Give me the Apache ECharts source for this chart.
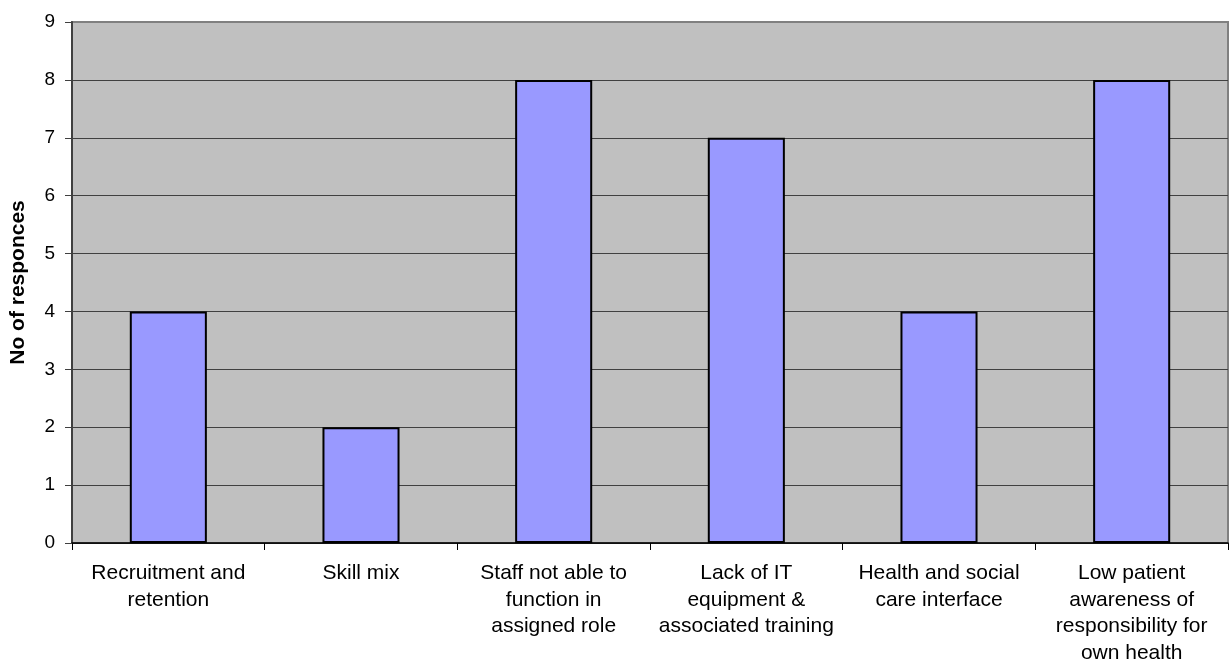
<!DOCTYPE html>
<html>
<head>
<meta charset="utf-8">
<style>
  html, body { margin: 0; padding: 0; background: #ffffff; }
  #chart { width: 1229px; height: 666px; }
</style>
<script src="https://cdn.jsdelivr.net/npm/echarts@6/dist/echarts.min.js"></script>
</head>
<body>
<div id="chart"></div>
<script>
// Barriers reported, with number of responses for each
const categories = [
  'Recruitment and\nretention',
  'Skill mix',
  'Staff not able to\nfunction in\nassigned role',
  'Lack of IT\nequipment &\nassociated training',
  'Health and social\ncare interface',
  'Low patient\nawareness of\nresponsibility for\nown health'
];
const responses = [4, 2, 8, 7, 4, 8];
const yTicks = { min: 0, max: 9, interval: 1 };
const yTitle = 'No of responces';

const FONT = '"Liberation Sans", Arial, sans-serif';

// one colour per horizontal gridline (0..9); the top one blends with the plot border
const gridColors = [];
for (let v = yTicks.min; v <= yTicks.max; v += yTicks.interval) {
  gridColors.push(v === yTicks.max ? '#808080' : '#404040');
}

const chart = echarts.init(document.getElementById('chart'), null, { renderer: 'canvas' });
chart.setOption({
  animation: false,
  backgroundColor: '#ffffff',
  textStyle: { fontFamily: FONT },
  grid: {
    left: 70, right: 1, top: 22, bottom: 122,
    show: true,
    backgroundColor: '#C0C0C0',
    borderColor: '#808080',
    borderWidth: 2
  },
  xAxis: {
    type: 'category',
    data: categories,
    axisLine: { show: true, lineStyle: { color: '#000000', width: 1.5 } },
    axisTick: { show: true, alignWithLabel: false, length: 7, lineStyle: { color: '#000000', width: 1 } },
    axisLabel: {
      interval: 0,
      margin: 17,
      color: '#000000',
      fontFamily: FONT,
      fontSize: 21,
      lineHeight: 26.5,
      align: 'center'
    },
    splitLine: { show: false }
  },
  yAxis: {
    type: 'value',
    min: yTicks.min,
    max: yTicks.max,
    interval: yTicks.interval,
    name: yTitle,
    nameLocation: 'middle',
    nameRotate: 90,
    nameGap: 43,
    nameTextStyle: { color: '#000000', fontFamily: FONT, fontSize: 21, fontWeight: 'bold' },
    axisLine: { show: true, lineStyle: { color: '#404040', width: 2 } },
    axisTick: { show: true, length: 7, lineStyle: { color: '#404040', width: 1 } },
    axisLabel: { margin: 17, color: '#000000', fontFamily: FONT, fontSize: 19 },
    splitLine: { show: true, lineStyle: { color: gridColors, width: 1 } }
  },
  series: [{
    type: 'bar',
    data: responses,
    barWidth: '40%',
    itemStyle: { color: '#9999FF', borderColor: '#000000', borderWidth: 2 }
  }]
});
</script>
</body>
</html>
